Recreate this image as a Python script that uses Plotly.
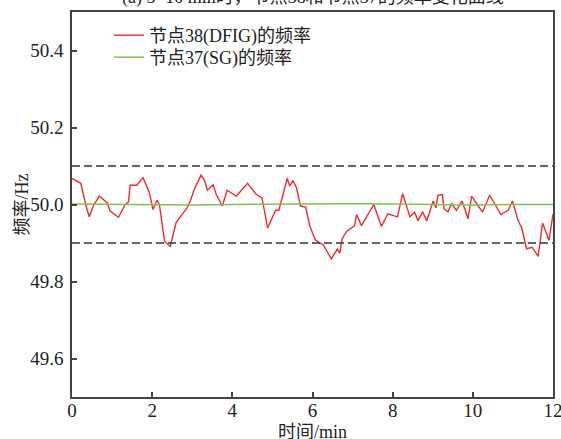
import plotly.graph_objects as go

# ---- data ----
t_dfig = [0.0, 0.22, 0.35, 0.43, 0.53, 0.68, 0.88, 0.95, 1.16, 1.33, 1.41, 1.45, 1.62, 1.77, 1.93,
          2.02, 2.12, 2.18, 2.31, 2.45, 2.6, 2.87, 2.95, 3.07, 3.22, 3.3, 3.38, 3.52, 3.6, 3.75,
          3.87, 4.1, 4.38, 4.58, 4.74, 4.88, 5.08, 5.16, 5.37, 5.43, 5.51, 5.6, 5.7, 5.83, 5.93,
          6.07, 6.27, 6.35, 6.47, 6.62, 6.68, 6.74, 6.85, 7.05, 7.1, 7.22, 7.53, 7.72, 7.88, 8.12,
          8.25, 8.43, 8.55, 8.63, 8.75, 8.85, 9.01, 9.08, 9.13, 9.24, 9.28, 9.38, 9.47, 9.59, 9.73,
          9.88, 9.97, 10.24, 10.42, 10.7, 10.88, 10.99, 11.12, 11.22, 11.34, 11.48, 11.63, 11.74,
          11.9, 12.0]
f_dfig = [50.068, 50.055, 49.996, 49.968, 49.996, 50.022, 50.004, 49.983, 49.967, 50.0, 50.007,
          50.05, 50.05, 50.07, 50.031, 49.987, 50.011, 50.0, 49.904, 49.891, 49.954, 49.991,
          50.009, 50.044, 50.076, 50.064, 50.037, 50.051, 50.026, 49.996, 50.037, 50.022, 50.055,
          50.028, 50.017, 49.939, 49.985, 49.985, 50.068, 50.048, 50.062, 50.044, 49.996, 49.993,
          49.945, 49.908, 49.895, 49.882, 49.859, 49.884, 49.874, 49.911, 49.930, 49.945, 49.974,
          49.945, 50.0, 49.943, 49.976, 49.968, 50.028, 49.968, 49.980, 49.958, 49.981, 49.957,
          50.009, 49.991, 50.024, 50.026, 49.989, 49.981, 50.002, 49.985, 50.009, 49.963, 50.022,
          49.980, 50.024, 49.974, 49.985, 50.009, 49.961, 49.939, 49.885, 49.889, 49.865, 49.952,
          49.907, 49.975]
t_sg = [0, 1, 2, 3, 4, 5, 6, 7, 8, 9, 10, 11, 12]
f_sg = [50.001, 50.0, 49.999, 49.999, 50.0, 50.001, 50.002, 50.002, 50.001, 50.0, 49.999, 50.0, 50.0]
limit_lines = [50.1, 49.9]

x_ticks = [0, 2, 4, 6, 8, 10, 12]
x_tick_labels = ["0", "2", "4", "6", "8", "10", "12"]
y_ticks = [49.6, 49.8, 50.0, 50.2, 50.4]
y_tick_labels = ["49.6", "49.8", "50.0", "50.2", "50.4"]

name_dfig = "节点38(DFIG)的频率"
name_sg = "节点37(SG)的频率"
title_text = "(a) 5~10 min时，节点38和节点37的频率变化曲线"
x_title = "时间/min"
y_title = "频率/Hz"

FONT = "Liberation Serif, Noto Sans CJK SC"
TICK_FONT = "Liberation Serif"
TXT = "#222222"

fig = go.Figure()
fig.add_trace(go.Scatter(x=t_dfig, y=f_dfig, mode="lines", name=name_dfig,
                         line=dict(color="#f52a2a", width=1.4), legend="legend"))
fig.add_trace(go.Scatter(x=t_sg, y=f_sg, mode="lines", name=name_sg,
                         line=dict(color="#7cc44e", width=1.5), legend="legend2"))

for v in limit_lines:
    fig.add_hline(y=v, line=dict(color="#333333", width=1.3, dash="8px,4px"))

axis_common = dict(
    showline=True, linecolor="#444444", linewidth=1.6, mirror=True,
    ticks="inside", ticklen=5, tickcolor="#444444", tickwidth=1.5,
    showgrid=False, zeroline=False, automargin=False, ticklabeloverflow="allow",
    tickfont=dict(family=TICK_FONT, size=19, color=TXT, weight="normal"),
)

legend_common = dict(xanchor="left", yanchor="top", bgcolor="rgba(0,0,0,0)", borderwidth=0,
                     font=dict(family=FONT, size=18, color=TXT), itemwidth=30)

fig.update_layout(
    width=561, height=439,
    margin=dict(l=72, r=8, t=12, b=42),
    paper_bgcolor="white", plot_bgcolor="white",
    font=dict(family=FONT, color=TXT),
    xaxis=dict(range=[0, 12], tickvals=x_ticks, ticktext=x_tick_labels,
               ticklabelstandoff=-5, **axis_common),
    yaxis=dict(range=[49.5, 50.5], tickvals=y_ticks, ticktext=y_tick_labels,
               ticklabelstandoff=3, **axis_common),
    legend=dict(x=0.077, y=0.987, **legend_common),
    legend2=dict(x=0.077, y=0.930, **legend_common),
    showlegend=True,
    annotations=[
        dict(text=title_text, xref="paper", yref="paper", x=0.5, y=1.038,
             xanchor="center", yanchor="middle", showarrow=False,
             font=dict(family=FONT, size=18, color=TXT)),
        dict(text=x_title, xref="paper", yref="paper", x=0.5, y=-0.091,
             xanchor="center", yanchor="middle", showarrow=False,
             font=dict(family=FONT, size=18, color=TXT)),
        dict(text=y_title, xref="paper", yref="paper", x=-0.106, y=0.5,
             xanchor="center", yanchor="middle", showarrow=False, textangle=-90,
             font=dict(family=FONT, size=18, color=TXT)),
    ],
)

fig.write_html("out.html", config={"displayModeBar": False},
               post_script="document.body.style.margin='0';")
